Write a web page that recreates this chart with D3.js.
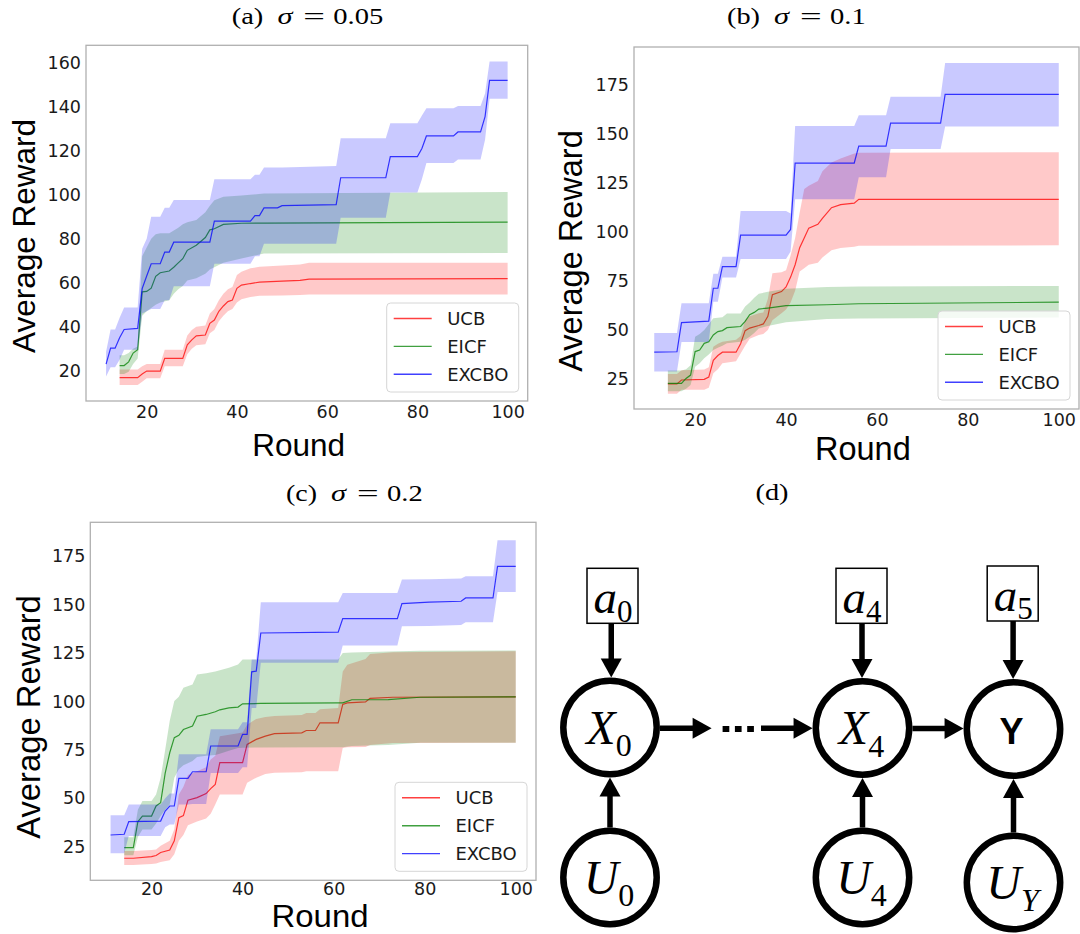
<!DOCTYPE html>
<html><head><meta charset="utf-8">
<script src="https://cdn.jsdelivr.net/npm/d3@7"></script>
<style>body{margin:0;background:#fff}svg{display:block}</style>
</head><body>
<svg id="fig" width="1080" height="934"></svg>
<script>
// ---------------- DATA ----------------
const seriesNames = ["UCB", "EICF", "EXCBO"];
const roundTicks = [20, 40, 60, 80, 100];
const rewardTicksA = [20, 40, 60, 80, 100, 120, 140, 160];
const rewardTicksBC = [25, 50, 75, 100, 125, 150, 175];
const panelCaptions = [["(a)", "σ", "=", "0.05"], ["(b)", "σ", "=", "0.1"], ["(c)", "σ", "=", "0.2"], ["(d)"]];

// each row: [round, mean, lower, upper]
const ucbA = [[14,16.8,13.5,20.5],[18,16.8,13.5,20.5],[19,18.5,15,22],[20,19.8,16.5,23],[23,19.8,16.5,23],[24,25.6,22,29.5],[28,25.6,22,29.5],[29,31.7,27.5,36],[30,34,30,38.5],[31,35.8,31.5,40],[33,36.2,32,40.5],[34,41.5,37,46],[35,43,38.5,48],[36,47,42.5,52],[37,49.4,45,55],[38,51.4,47,57],[39,52.1,48,58],[40,57.4,51,63.5],[41,58.9,52.5,65],[43,59.6,53.5,66.5],[45,60.2,54,67.2],[50,60.7,54.2,67.8],[54,61,54.4,68.3],[56,61.6,54.6,69],[100,61.8,54.6,69]];
const eicfA = [[14,22.3,18.5,27],[15,22.3,18.5,27],[16,24,19.5,28],[17,28,23,30],[18,29.5,25.5,31],[19,55.8,45,72],[20,56,47,76],[21,57.5,48.5,80],[22,62.9,50,82],[23,64.5,51,82.5],[25,65.3,52,82.5],[26,67,55,83.7],[27,69,57,85],[28,70.9,58.5,86.5],[29,74.7,61,87.5],[31,77,62,88.5],[33,80.5,64,92],[34,84,66,95],[35,84.5,67,97.5],[37,86.5,69,99],[41,87,71,99.6],[46,87.1,73.2,100.5],[100,87.5,73.5,101.2]];
const excboA = [[11,23,17.3,28.6],[12,30.2,21.5,38.7],[13,30.2,21.5,38.7],[14,35,25,44],[15,38.7,29.5,48.7],[18,39.2,29.5,48.7],[19,57.3,46,75.4],[20,63,47,80],[21,68.6,48,90],[23,68.6,48,90],[24,73.9,52,94],[25,73.9,52,94],[26,78.4,58.4,97.6],[34,78.4,58.4,97.6],[35,88,68.6,107],[43,88,68.6,107],[44,90.5,72,109],[45,90.5,72,109],[46,94,77.7,112.4],[49,94,77.7,112.4],[50,95,77.7,112.4],[62,95.5,77.7,113],[63,107.7,89.5,125.6],[73,107.7,89.5,125.6],[74,117.3,101,132.5],[80,117.3,101,132.5],[81,121,107,136],[82,126.7,114.4,139.3],[88,126.7,114.4,139.3],[89,128.5,116,140.3],[94,128.5,116,140.3],[95,135.5,125,146],[96,152,143.6,160.5],[100,152,143.6,160.5]];

const ucbB = [[14,22.5,17.5,27.5],[16,22.5,17.5,27.5],[17,24.5,19.5,29.5],[22,24.8,19.5,29.8],[23,26,20.5,31],[24,34.5,28,41.5],[25,37,30,43],[26,38.7,33,44],[29,38.7,34,45],[30,43,38,47],[31,49.7,42,55],[32,51,45.5,57],[34,52.3,47.5,58.5],[35,53.1,48,59],[36,57,50,66],[37,68,55,79],[39,69.6,58.5,79.5],[40,72,60.5,80.5],[41,77,64,88],[42,83.3,70,97],[43,92,79.9,110],[44,97,81.5,122],[45,102,83.3,123.6],[47,103.9,84.3,126],[48,107,87,131],[50,112.4,90.7,135.5],[52,114,91.8,137.5],[55,114.7,92.5,140],[56,116.7,93,140.5],[100,116.7,93.2,140.7]];
const eicfB = [[14,22.8,18.8,29.4],[17,22.8,18.8,29.4],[18,25.3,20,30],[19,27,22,32],[20,39,31.3,46.6],[21,39.8,33,48],[22,43.2,35.6,50],[23,44,37.5,53],[24,47.5,39.8,56],[25,49.2,41,56.3],[26,49.7,42,56.5],[27,51.2,43.2,58.4],[30,51.8,44,58.4],[31,54.4,45,62],[32,57.8,46.6,64],[33,59,48.5,66.5],[34,60.7,50.8,68.5],[36,61.2,52,69.5],[40,62.4,54,71],[49,62.9,55.6,72],[56,63.4,55.9,72.2],[100,64.2,56.4,72.5]];
const excboB = [[11,38.7,28.8,48.5],[16,38.9,28.8,48.5],[17,53.8,43.9,63.6],[23,54.5,43.9,63.6],[24,71.3,64.4,78.7],[25,71.3,64.4,78.7],[26,82.3,76.8,87.4],[29,82.3,76.8,87.4],[30,98.4,86.2,110.7],[40,98.4,86.2,110.7],[41,101.3,90,109.5],[42,135.2,116.7,154.1],[55,135.2,116.7,154.1],[56,143.8,127.9,159.6],[62,143.8,127.9,159.6],[63,155.6,142.4,169],[74,155.6,142.4,169],[75,170.2,153.9,186.2],[100,170.2,153.9,186.2]];

const ucbC = [[14,19,15.5,22.8],[16,19,15.5,22.8],[20,19.8,16,23.2],[21,20.4,16.3,23.5],[22,22,17,25.5],[24,23.2,18,28],[25,28,21,34],[26,40,28,52],[27,41,31,56],[28,49,36,62],[30,50.3,38,64],[32,52.4,39.5,66],[33,55,42,70],[34,57.2,46.8,72],[35,68.4,52,82],[40,68.4,52,84],[41,77.8,58,88],[43,80.4,60.6,91],[45,82.1,62.5,92],[47,83.4,63.2,92.5],[53,83.8,63.5,93],[54,85,64,94],[56,85,64,94],[57,89,64,96],[61,89,64,96.7],[62,98.5,76,115.5],[63,99.3,76.3,119],[67,99.8,76.5,122],[68,101.6,77.5,124.6],[73,102.2,78.5,125.5],[100,102.4,78.7,126]];
const eicfC = [[14,24.5,20.5,29.8],[16,24.5,20.5,29.8],[17,37.9,30,44],[18,40.8,33.9,48.6],[20,40.8,33.9,48.6],[21,46,37,52],[22,47.7,40.8,60.6],[23,63,44,75],[24,73.5,46.8,90],[25,81.3,60.6,100.2],[26,82.5,65,102.5],[27,85.5,67,107.1],[29,87.3,69.2,108.8],[30,92.4,71.3,114],[32,93.3,72,114.6],[34,94.7,72.3,115.5],[35,95.7,73,116.2],[37,96.7,74.5,117.5],[39,97.1,76,119.1],[40,98.8,76.1,121.7],[44,99,76.2,121.7],[61,99.3,76.4,121.7],[62,99.3,76.4,125.1],[64,100.9,77,125.3],[72,101,77.5,125.8],[79,102.2,78.7,126.2],[100,102.4,78.7,126.3]];
const excboC = [[11,31,21.6,41.2],[14,31.4,21.6,41.2],[15,37.9,30.5,46.8],[22,38.2,30.5,46.8],[23,43.4,35,50],[24,46,36.5,52.4],[25,46,36.5,52.4],[26,60.3,46.8,72.7],[28,60.3,46.8,72.7],[29,63.7,47,72.7],[32,63.7,47,72.7],[33,77,63,85.6],[39,77,63,85.6],[40,83,66,89.3],[41,83,66,89.3],[42,115.3,96.7,121.7],[43,115.7,96.7,121.7],[44,135.4,120,151.3],[61,135.8,120,151.3],[62,142.8,129,156.1],[74,142.8,129,156.1],[75,150.6,138.9,163],[81,151.4,139,163.2],[88,151.8,139.5,163.5],[89,153.5,141,164.7],[95,153.5,141,164.7],[96,169.8,156.6,183.3],[100,169.8,156.6,183.3]];

// diagram (d) content
const diagramNodes = [
  {id: "a0", shape: "box", main: "a", sub: "0"},
  {id: "a4", shape: "box", main: "a", sub: "4"},
  {id: "a5", shape: "box", main: "a", sub: "5"},
  {id: "X0", shape: "circle", main: "X", sub: "0"},
  {id: "X4", shape: "circle", main: "X", sub: "4"},
  {id: "Y", shape: "circle", main: "Y", sub: ""},
  {id: "U0", shape: "circle", main: "U", sub: "0"},
  {id: "U4", shape: "circle", main: "U", sub: "4"},
  {id: "UY", shape: "circle", main: "U", sub: "Y"}
];
const diagramEdges = [["a0","X0"],["a4","X4"],["a5","Y"],["U0","X0"],["U4","X4"],["UY","Y"],["X0","dots"],["dots","X4"],["X4","Y"]];

// ---------------- LAYOUT ----------------
const svg = d3.select("#fig");
const seriesColors = ["#ff0000", "#008000", "#0000ff"];
const xDomain = [6.55, 104.45];

const panels = [
  {key: "a", series: [ucbA, eicfA, excboA], yTicks: rewardTicksA, yDom: [6.2, 167.9],
   fx0: 86, fx1: 527.7, fy0: 45.3, fy1: 401, xPad: 5,
   ylx: 34.5, yly: 236, xlx: 252.3, xly: 456, labSize: 31.5, xlabW: null},
  {key: "b", series: [ucbB, eicfB, excboB], yTicks: rewardTicksBC, yDom: [9.7, 194.4],
   fx0: 634, fx1: 1079, fy0: 47, fy1: 409, xPad: 5,
   ylx: 582, yly: 251, xlx: 815, xly: 460, labSize: 32.5, xlabW: null},
  {key: "c", series: [ucbC, eicfC, excboC], yTicks: rewardTicksBC, yDom: [7.6, 192.6],
   fx0: 90.3, fx1: 536, fy0: 522.3, fy1: 880.3, xPad: 2,
   ylx: 40, yly: 717, xlx: 271.5, xly: 927.3, labSize: 31, xlabW: 97, ylabSize: 32.8}
];
// caption segment layout: [x, width] for each caption part, plus baseline
const captionLayout = [
  {y: 23.5, segs: [[231.7, 31.6], [277.5, 15], [303.3, 21.7], [333.3, 50]]},
  {y: 23.5, segs: [[727, 33], [774, 15], [800, 21.7], [830, 35.7]]},
  {y: 500.7, segs: [[286, 31], [331, 15], [357, 21.7], [387, 35.7]]},
  {y: 499.5, segs: [[755.5, 33]]}
];

const defs = svg.append("defs");

function caption(i) {
  const parts = panelCaptions[i], lay = captionLayout[i];
  parts.forEach((txt, k) => {
    svg.append("text").attr("x", lay.segs[k][0]).attr("y", lay.y)
      .attr("font-family", "Liberation Serif, DejaVu Serif, serif").attr("font-size", 23)
      .attr("font-style", txt === "σ" ? "italic" : "normal").attr("fill", "#000")
      .attr("textLength", lay.segs[k][1]).attr("lengthAdjust", "spacingAndGlyphs").text(txt);
  });
}

panels.forEach((p, pi) => {
  const g = svg.append("g");
  const x = d3.scaleLinear().domain(xDomain).range([p.fx0, p.fx1]);
  const y = d3.scaleLinear().domain(p.yDom).range([p.fy1, p.fy0]);
  const clipId = "clip-" + p.key;
  defs.append("clipPath").attr("id", clipId).append("rect")
    .attr("x", p.fx0).attr("y", p.fy0).attr("width", p.fx1 - p.fx0).attr("height", p.fy1 - p.fy0);
  const plot = g.append("g").attr("clip-path", `url(#${clipId})`);
  const area = d3.area().x(d => x(d[0])).y0(d => y(d[2])).y1(d => y(d[3]));
  const line = d3.line().x(d => x(d[0])).y(d => y(d[1]));
  p.series.forEach((s, i) => {
    plot.append("path").datum(s).attr("d", line).attr("fill", "none")
      .attr("stroke", seriesColors[i]).attr("stroke-opacity", 0.75).attr("stroke-width", 1.2);
    plot.append("path").datum(s).attr("d", area).attr("fill", seriesColors[i]).attr("fill-opacity", 0.21);
  });

  // frame
  g.append("rect").attr("x", p.fx0).attr("y", p.fy0).attr("width", p.fx1 - p.fx0).attr("height", p.fy1 - p.fy0)
    .attr("fill", "none").attr("stroke", "#b0b0b0").attr("stroke-width", 1.3);

  // axes
  const ya = g.append("g").attr("transform", `translate(${p.fx0},0)`)
    .call(d3.axisLeft(y).tickValues(p.yTicks).tickSize(0).tickPadding(5));
  const xa = g.append("g").attr("transform", `translate(0,${p.fy1})`)
    .call(d3.axisBottom(x).tickValues(roundTicks).tickSize(0).tickPadding(p.xPad));
  [ya, xa].forEach(a => {
    a.select(".domain").remove();
    a.selectAll("text").attr("font-family", "DejaVu Sans").attr("font-size", 17.5).attr("fill", "#1a1a1a");
  });

  // axis labels
  g.append("text").attr("transform", `translate(${p.ylx},${p.yly}) rotate(-90)`)
    .attr("text-anchor", "middle").attr("font-family", "Liberation Sans, Arial, sans-serif")
    .attr("font-size", p.ylabSize || p.labSize).attr("fill", "#000").text("Average Reward");
  const xl = g.append("text").attr("x", p.xlx).attr("y", p.xly)
    .attr("font-family", "Liberation Sans, Arial, sans-serif")
    .attr("font-size", p.labSize).attr("fill", "#000").text("Round");
  if (p.xlabW) xl.attr("textLength", p.xlabW).attr("lengthAdjust", "spacingAndGlyphs");

  // legend
  const lw = 132, lh = 89;
  const lx = p.fx1 - 9 - lw, ly = p.fy1 - 9 - lh;
  const lg = g.append("g").attr("transform", `translate(${lx},${ly})`);
  lg.append("rect").attr("width", lw).attr("height", lh).attr("rx", 4).attr("ry", 4)
    .attr("fill", "#fff").attr("fill-opacity", 0.8).attr("stroke", "#d6d6d6").attr("stroke-width", 1);
  seriesNames.forEach((n, i) => {
    const ry = 15.5 + i * 27.9;
    lg.append("line").attr("x1", 7).attr("x2", 45).attr("y1", ry).attr("y2", ry)
      .attr("stroke", seriesColors[i]).attr("stroke-opacity", 0.75).attr("stroke-width", 1.4);
    lg.append("text").attr("x", 60.5).attr("y", ry).attr("dy", "0.36em")
      .attr("font-family", "DejaVu Sans").attr("font-size", 18).attr("fill", "#1a1a1a").text(n);
  });

  caption(pi);
});

// ---------------- DIAGRAM (d) ----------------
caption(3);

const nodePos = {
  a0: [612.5, 595.8], a4: [861.5, 595.8], a5: [1012.7, 593.5],
  X0: [610, 727.5], X4: [862.5, 728], Y: [1013.5, 729],
  U0: [610, 877.5], U4: [862.5, 877.5], UY: [1013.5, 882.5],
  dots: [738.3, 729]
};
const R = 46.7, ringW = 6.5, boxW = 51, boxH = 55, dotsHalf = 15.7;
const dg = svg.append("g");

function arrow(x1, y1, x2, y2) {
  const dx = x2 - x1, dy = y2 - y1, L = Math.hypot(dx, dy);
  const ux = dx / L, uy = dy / L, hl = 19, hw = 10.5;
  const bx = x2 - ux * hl, by = y2 - uy * hl;
  dg.append("line").attr("x1", x1).attr("y1", y1).attr("x2", bx + ux * 1).attr("y2", by + uy * 1)
    .attr("stroke", "#000").attr("stroke-width", 5.5);
  dg.append("path").attr("d", `M${x2},${y2}L${bx - uy * hw},${by + ux * hw}L${bx + uy * hw},${by - ux * hw}Z`)
    .attr("fill", "#000");
}

function edgePoint(id, dir) {
  const [cx, cy] = nodePos[id];
  if (id === "dots") return [cx + dir[0] * dotsHalf, cy];
  const n = diagramNodes.find(d => d.id === id);
  if (n.shape === "box") return [cx + dir[0] * boxW / 2, cy + dir[1] * boxH / 2];
  return [cx + dir[0] * (R + ringW / 2), cy + dir[1] * (R + ringW / 2)];
}

diagramEdges.forEach(([s, t]) => {
  const [sx, sy] = nodePos[s], [tx, ty] = nodePos[t];
  if (Math.abs(tx - sx) > Math.abs(ty - sy)) {
    const dir = [Math.sign(tx - sx), 0];
    const yy = s === "dots" || t === "dots" ? 728.3 : (sy + ty) / 2;
    let x1 = edgePoint(s, dir)[0], x2 = edgePoint(t, [-dir[0], 0])[0];
    if (s === "dots") x1 += 7;
    if (t === "dots") x2 -= 11;
    arrow(x1, yy, x2, yy);
  } else {
    const dir = [0, Math.sign(ty - sy)];
    const xx = t.startsWith("X") || t === "Y" ? tx + (s.startsWith("a") ? sx - tx : 0) * 0.5 : tx;
    arrow(xx, edgePoint(s, dir)[1], xx, edgePoint(t, [0, -dir[1]])[1]);
  }
});

// dots "···"
dg.append("line").attr("x1", nodePos.dots[0] - dotsHalf).attr("x2", nodePos.dots[0] + dotsHalf)
  .attr("y1", nodePos.dots[1]).attr("y2", nodePos.dots[1])
  .attr("stroke", "#000").attr("stroke-width", 6).attr("stroke-dasharray", "6.7 5.6");

diagramNodes.forEach(n => {
  const [cx, cy] = nodePos[n.id];
  if (n.shape === "box") {
    dg.append("rect").attr("x", cx - boxW / 2).attr("y", cy - boxH / 2).attr("width", boxW).attr("height", boxH)
      .attr("fill", "#fff").attr("stroke", "#000").attr("stroke-width", 1.5);
    const t = dg.append("text").attr("x", cx + 0.5).attr("y", cy + 17.3).attr("text-anchor", "middle")
      .attr("font-family", "Liberation Serif, DejaVu Serif, serif").attr("font-size", 47).attr("fill", "#000");
    t.append("tspan").attr("font-style", "italic").text(n.main);
    t.append("tspan").attr("font-size", 31).attr("dy", 8.4).text(n.sub);
  } else {
    dg.append("circle").attr("cx", cx).attr("cy", cy).attr("r", R)
      .attr("fill", "#fff").attr("stroke", "#000").attr("stroke-width", ringW);
    if (n.main === "Y") {
      dg.append("text").attr("x", cx - 2).attr("y", cy + 14.5).attr("text-anchor", "middle")
        .attr("font-family", "Liberation Sans, Arial, sans-serif").attr("font-weight", "bold")
        .attr("font-size", 36).attr("fill", "#000").text("Y");
    } else {
      const t = dg.append("text").attr("x", cx - 1).attr("y", cy + 16).attr("text-anchor", "middle")
        .attr("font-family", "Liberation Serif, DejaVu Serif, serif").attr("font-size", 48).attr("fill", "#000");
      t.append("tspan").attr("font-style", "italic").text(n.main);
      t.append("tspan").attr("font-size", 32).attr("dy", 12.5).attr("font-style", n.sub === "Y" ? "italic" : "normal").text(n.sub);
    }
  }
});
</script>
</body></html>
